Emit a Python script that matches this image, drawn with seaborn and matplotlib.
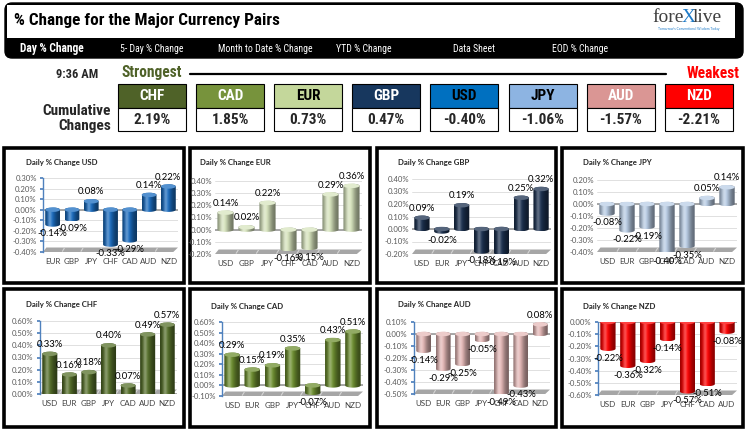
import numpy as np
import matplotlib
matplotlib.use('Agg')
import matplotlib.pyplot as plt
import seaborn as sns
from matplotlib.patches import Rectangle, FancyBboxPatch, Ellipse, Polygon
from matplotlib.path import Path
from matplotlib.colors import ListedColormap, to_rgb

# cumulative strength table
cum_ccy = ['CHF', 'CAD', 'EUR', 'GBP', 'USD', 'JPY', 'AUD', 'NZD']
cum_vals = [2.19, 1.85, 0.73, 0.47, -0.40, -1.06, -1.57, -2.21]
cum_colors = ['#4F6228', '#77933C', '#C4D79B', '#17375E', '#0070C0', '#8DB4E2', '#DA9694', '#FF0000']
cum_textcol = ['white', 'white', 'black', 'white', 'black', 'black', 'white', 'white']

tabs = ['Day % Change', '5- Day % Change', 'Month to Date % Change', 'YTD % Change',
        'Data Sheet', 'EOD % Change']

# daily % change per currency
usd_cats = ['EUR', 'GBP', 'JPY', 'CHF', 'CAD', 'AUD', 'NZD']
usd_vals = [-0.14, -0.09, 0.08, -0.33, -0.29, 0.14, 0.22]
eur_cats = ['USD', 'GBP', 'JPY', 'CHF', 'CAD', 'AUD', 'NZD']
eur_vals = [0.14, 0.02, 0.22, -0.16, -0.15, 0.29, 0.36]
gbp_cats = ['USD', 'EUR', 'JPY', 'CHF', 'CAD', 'AUD', 'NZD']
gbp_vals = [0.09, -0.02, 0.19, -0.18, -0.19, 0.25, 0.32]
jpy_cats = ['USD', 'EUR', 'GBP', 'CHF', 'CAD', 'AUD', 'NZD']
jpy_vals = [-0.08, -0.22, -0.19, -0.40, -0.35, 0.05, 0.14]
chf_cats = ['USD', 'EUR', 'GBP', 'JPY', 'CAD', 'AUD', 'NZD']
chf_vals = [0.33, 0.16, 0.18, 0.40, 0.07, 0.49, 0.57]
cad_cats = ['USD', 'EUR', 'GBP', 'JPY', 'CHF', 'AUD', 'NZD']
cad_vals = [0.29, 0.15, 0.19, 0.35, -0.07, 0.43, 0.51]
aud_cats = ['USD', 'EUR', 'GBP', 'JPY', 'CHF', 'CAD', 'NZD']
aud_vals = [-0.14, -0.29, -0.25, -0.05, -0.49, -0.43, 0.08]
nzd_cats = ['USD', 'EUR', 'GBP', 'JPY', 'CHF', 'CAD', 'AUD']
nzd_vals = [-0.22, -0.36, -0.32, -0.14, -0.57, -0.51, -0.08]

W, H = 749, 430
sns.set_theme(style='white')
plt.rcParams['font.family'] = ['Lato', 'DejaVu Sans']
NARROW = dict(family=['Roboto Condensed', 'DejaVu Sans'], fontstretch='condensed')

fig = plt.figure(figsize=(W / 100, H / 100), dpi=100)
fig.patch.set_facecolor('white')


def px_axes(x0, y0, x1, y1, **kw):
    return fig.add_axes([x0 / W, 1 - y1 / H, (x1 - x0) / W, (y1 - y0) / H], **kw)


bg = px_axes(0, 0, W, H)
bg.set_xlim(0, W)
bg.set_ylim(H, 0)
bg.axis('off')

# header
bg.add_patch(FancyBboxPatch((5, 3), 738, 55, boxstyle='round,pad=0,rounding_size=7',
                            fc='black', ec='black', lw=1))
bg.add_patch(Rectangle((7, 5), 728, 33, fc='white', ec='none'))
bg.text(14, 21, '% Change for the Major Currency Pairs', weight='bold',
        fontsize=12.3, va='center', ha='left', color='black', **NARROW)
bg.text(652, 18, 'fore', family='Liberation Serif', fontsize=14, color='#404040', va='center')
bg.text(682, 18, 'X', family='Liberation Serif', fontsize=14, color='#1F7BC8', va='center')
bg.text(693, 18, 'live', family='Liberation Serif', fontsize=14, color='#404040', va='center')
bg.text(689, 29, "Tomorrow's Conventional Wisdom Today", fontsize=2.4, color='#1F7BC8',
        ha='center', va='center')
tab_x = [20, 120, 218, 336, 453, 552]
for i, (tx, lab) in enumerate(zip(tab_x, tabs)):
    bg.text(tx, 48.5, lab, color='white', va='center',
            fontsize=8.3 if i == 0 else 7, weight='bold' if i == 0 else 'normal', **NARROW)

# strength row
bg.text(77, 75, '9:36 AM', weight='bold', fontsize=9, ha='center', va='center', **NARROW)
bg.text(121, 73, 'Strongest', weight='bold', fontsize=11.2, color='#4F6228',
        va='center', **NARROW)
bg.plot([190, 666], [74, 74], color='black', lw=1.6)
bg.text(740, 73, 'Weakest', weight='bold', fontsize=11.2, color='#FF0000',
        va='center', ha='right', **NARROW)
bg.text(111, 111, 'Cumulative', weight='bold', fontsize=11, ha='right', va='center', **NARROW)
bg.text(111, 126, 'Changes', weight='bold', fontsize=11, ha='right', va='center', **NARROW)
for i, (c, v, col, tc) in enumerate(zip(cum_ccy, cum_vals, cum_colors, cum_textcol)):
    x = 118 + i * 78.1
    bg.add_patch(Rectangle((x, 84), 68, 24, fc=col, ec='black', lw=0.8))
    bg.add_patch(Rectangle((x, 108), 68, 23, fc='white', ec='black', lw=0.8))
    bg.text(x + 34, 96.5, c, weight='bold', fontsize=11, color=tc,
            ha='center', va='center', **NARROW)
    bg.text(x + 34, 120, f'{v:.2f}%', weight='bold', fontsize=11,
            ha='center', va='center', **NARROW)


def cylinders(ax, base, e):
    rgb = np.array(to_rgb(base))
    t = np.linspace(0, 1, 80)
    shade = 0.5 + 0.5 * np.exp(-((t - 0.4) / 0.33) ** 2)
    gloss = 0.3 * np.exp(-((t - 0.32) / 0.13) ** 2)
    body = rgb[None, :] * shade[:, None]
    cols = body + gloss[:, None] * (1 - body)
    cmap = ListedColormap(np.clip(cols, 0, 1))
    top_col = np.clip(rgb * 0.75 + 0.25, 0, 1)
    th1 = np.linspace(np.pi, 2 * np.pi, 30)
    th2 = np.linspace(0, np.pi, 30)
    for p in ax.containers[0]:
        x0, w = p.get_x(), p.get_width()
        ya, yb_ = p.get_y(), p.get_y() + p.get_height()
        lo, hi = min(ya, yb_), max(ya, yb_)
        xc = x0 + w / 2
        lower = np.column_stack([xc + w / 2 * np.cos(th1), lo + e * np.sin(th1)])
        upper = np.column_stack([xc + w / 2 * np.cos(th2), hi + e * np.sin(th2)])
        path = Path(np.vstack([lower, upper, lower[:1]]))
        im = ax.imshow(t[None, :], cmap=cmap, extent=(x0, x0 + w, lo - e, hi + e),
                       aspect='auto', zorder=3, interpolation='bilinear')
        im.set_clip_path(path, ax.transData)
        ax.add_patch(Ellipse((xc, hi), w, 2 * e, fc=top_col, ec='none', zorder=3.5))
        p.set_visible(False)


panels = [
    ('Daily % Change USD', usd_cats, usd_vals, '#1A6CC0', -0.4, 0.3,
     (4, 148, 184, 283), (43, 178, 178, 252), (26, 162), True),
    ('Daily % Change EUR', eur_cats, eur_vals, '#D7E4BD', -0.2, 0.4,
     (190, 148, 370, 283), (215, 181, 362, 254), (200, 163), False),
    ('Daily % Change GBP', gbp_cats, gbp_vals, '#1C3150', -0.2, 0.4,
     (377, 148, 556, 283), (412, 179, 551, 254), (398, 162), False),
    ('Daily % Change JPY', jpy_cats, jpy_vals, '#B9CDE5', -0.4, 0.2,
     (562, 148, 743, 283), (597, 180, 737, 252), (583, 162), False),
    ('Daily % Change CHF', chf_cats, chf_vals, '#56702A', 0.0, 0.6,
     (4, 289, 184, 427), (40, 321, 177, 394), (26, 304), True),
    ('Daily % Change CAD', cad_cats, cad_vals, '#6E8F30', -0.1, 0.6,
     (190, 289, 370, 427), (222, 322, 363, 396), (211, 306), True),
    ('Daily % Change AUD', aud_cats, aud_vals, '#E6B9B8', -0.5, 0.1,
     (377, 289, 556, 427), (414, 322, 550, 394), (398, 304), True),
    ('Daily % Change NZD', nzd_cats, nzd_vals, '#FF0000', -0.6, 0.0,
     (562, 289, 743, 427), (598, 322, 737, 395), (583, 306), True),
]

for title, cats, vals, col, lo, hi, prect, arect, tpos, blue_axis in panels:
    bg.add_patch(Rectangle((prect[0], prect[1]), prect[2] - prect[0], prect[3] - prect[1],
                           fc='white', ec='black', lw=2.6))
    bg.text(tpos[0], tpos[1], title, fontsize=5.6, weight='bold', color='#262626',
            va='center', ha='left')

    ax = px_axes(arect[0], arect[1], arect[2], arect[3])
    ax.set_facecolor('none')
    sns.barplot(x=cats, y=vals, color=col, width=0.77, saturation=1, ax=ax)
    texts = ax.bar_label(ax.containers[0], labels=[f'{v:.2f}%' for v in vals],
                         padding=3.5, fontsize=6.8, color='black')
    for t_ in texts:
        t_.set_zorder(6)
    hpx = arect[3] - arect[1]
    cylinders(ax, col, 2.2 * (hi - lo) / hpx)

    ticks = np.round(np.arange(lo, hi + 0.001, 0.1), 2)
    ax.set_yticks(ticks)
    ax.set_yticklabels([f'{v + 0:.2f}%' for v in ticks])
    ax.set_xlim(-0.5, len(cats) - 0.5)
    ax.set_ylim(lo, hi)
    ax.set_axisbelow(True)
    ax.yaxis.grid(True, color='#DADADA', lw=0.6)
    ax.axhline(0, color='#A0A0A0', lw=1.3, zorder=1)
    # grey 3-D floor with lighter category separators
    fh = 4.5 / hpx
    ax.add_patch(Polygon([(0, 0), (0.965, 0), (1.0, fh), (0.025, fh)], closed=True,
                         transform=ax.transAxes, fc='#A6A6A6', ec='none', zorder=1.5,
                         clip_on=False))
    for k in range(1, len(cats)):
        fx = k / len(cats) * 0.965
        ax.plot([fx + 0.006, fx + 0.02], [0.15 * fh, 0.85 * fh], transform=ax.transAxes,
                color='#D4D4D4', lw=0.8, zorder=1.6, clip_on=False)
    for s in ['top', 'right', 'bottom']:
        ax.spines[s].set_visible(False)
    if blue_axis:
        ax.spines['left'].set_color('#4F81BD')
        ax.spines['left'].set_linewidth(1)
        ax.tick_params(axis='y', length=2.5, color='#4F81BD', direction='out', left=True)
    else:
        ax.spines['left'].set_visible(False)
        ax.tick_params(axis='y', length=0)
    ax.tick_params(axis='y', labelsize=5.6, labelcolor='#595959', pad=2)
    ax.tick_params(axis='x', labelsize=5.8, labelcolor='#404040', length=0, pad=4.5)
    ax.set_xlabel('')
    ax.set_ylabel('')

fig.savefig('out.png', dpi=100)
